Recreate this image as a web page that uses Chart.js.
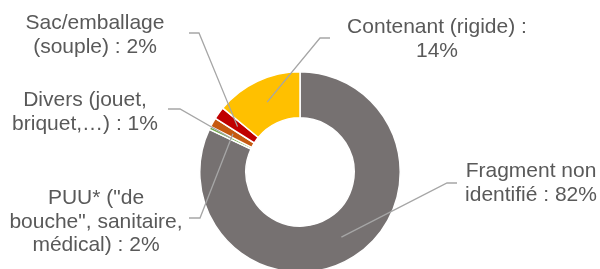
<!DOCTYPE html>
<html>
<head>
<meta charset="utf-8">
<script src="https://cdn.jsdelivr.net/npm/chart.js@4/dist/chart.umd.min.js"></script>
<style>
  html, body { margin: 0; padding: 0; background: #fff; overflow: hidden; }
  #wrap { width: 600px; height: 273px; position: relative; }
</style>
</head>
<body>
<div id="wrap"><canvas id="donutChart"></canvas></div>
<script>
// clockwise from 12 o'clock
var categories = [
    ['Fragment non', 'identifié'],
    ['Divers (jouet,', 'briquet,…)'],
    ['PUU* ("de', 'bouche", sanitaire,', 'médical)'],
    ['Sac/emballage', '(souple)'],
    ['Contenant (rigide) :', '']
];
var shares = [82, 0.5, 1.5, 2, 14];
var colors = ['#767171', '#70AD47', '#C55A11', '#C00000', '#FFC000'];

// text block centre x, first baseline y, elbow of the leader line
var labelLayout = [
    { x: 531, y: 177, lx: 457, ly: 183, ex: 447 },
    { x: 85, y: 106, lx: 168, ly: 109, ex: 180 },
    { x: 96, y: 204, lx: 189, ly: 218, ex: 200 },
    { x: 95, y: 29, lx: 189, ly: 33, ex: 199 },
    { x: 437, y: 33, lx: 330, ly: 38, ex: 320 }
];

var calloutPlugin = {
    id: 'callouts',
    afterDraw: function (chart) {
        var ctx = chart.ctx;
        var arcs = chart.getDatasetMeta(0).data;
        ctx.save();
        arcs.forEach(function (arc, i) {
            var p = arc.getProps(['x', 'y', 'startAngle', 'endAngle', 'innerRadius', 'outerRadius'], true);
            var a = (p.startAngle + p.endAngle) / 2;
            var r = (p.innerRadius + p.outerRadius) / 2;
            var px = p.x + Math.cos(a) * r;
            var py = p.y + Math.sin(a) * r;
            var L = labelLayout[i];
            ctx.strokeStyle = '#A6A6A6';
            ctx.lineWidth = 1.3;
            ctx.beginPath();
            ctx.moveTo(L.lx, L.ly);
            ctx.lineTo(L.ex, L.ly);
            ctx.lineTo(px, py);
            ctx.stroke();

            var pct = Math.round(shares[i]) + '%';
            var lines = categories[i].slice();
            var last = lines.length - 1;
            lines[last] = lines[last] ? lines[last] + ' : ' + pct : pct;
            ctx.fillStyle = '#595959';
            ctx.font = '21px "Liberation Sans", Arial, sans-serif';
            ctx.textAlign = 'center';
            ctx.textBaseline = 'alphabetic';
            lines.forEach(function (t, k) {
                ctx.fillText(t, L.x, L.y + k * 23.5);
            });
        });
        ctx.restore();
    }
};

new Chart(document.getElementById('donutChart').getContext('2d'), {
    type: 'doughnut',
    data: {
        labels: categories.map(function (c) { return c.join(' '); }),
        datasets: [{
            data: shares,
            backgroundColor: colors,
            borderColor: '#ffffff',
            borderWidth: 1.5
        }]
    },
    options: {
        responsive: true,
        maintainAspectRatio: false,
        animation: false,
        cutout: '54%',
        layout: { padding: { top: 71, bottom: 0 } },
        plugins: {
            legend: { display: false },
            tooltip: { enabled: false }
        }
    },
    plugins: [calloutPlugin]
});
</script>
</body>
</html>
